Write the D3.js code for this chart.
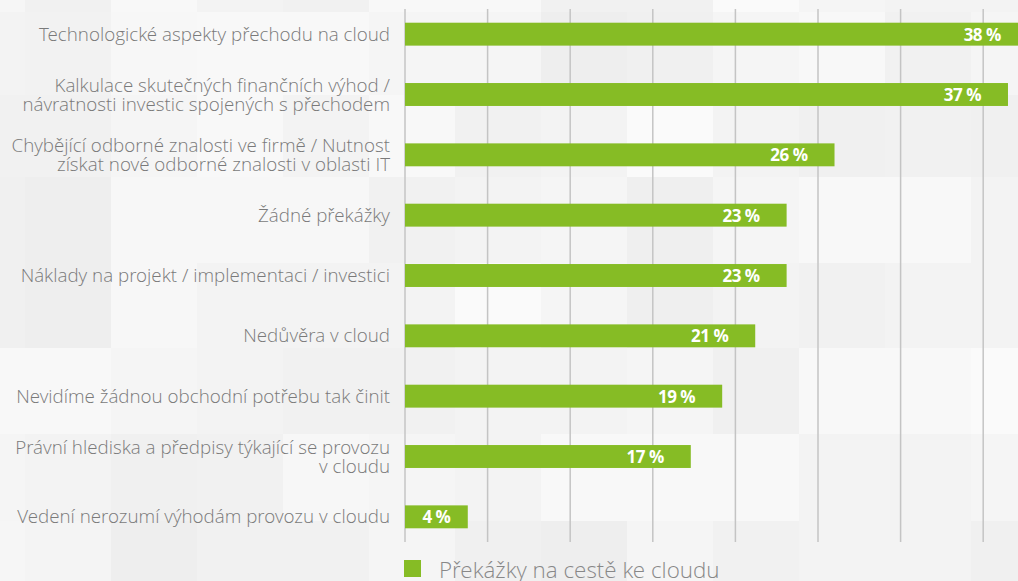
<!DOCTYPE html>
<html>
<head>
<meta charset="utf-8">
<script src="https://cdn.jsdelivr.net/npm/d3@7"></script>
<style>
  html, body { margin: 0; padding: 0; background: #f6f6f6; }
  svg { display: block; }
</style>
</head>
<body>
<div id="chart"></div>
<script>
// Chart data
const categories = [
  "Technologické aspekty přechodu na cloud",
  "Kalkulace skutečných finančních výhod /\nnávratnosti investic spojených s přechodem",
  "Chybějící odborné znalosti ve firmě / Nutnost\nzískat nové odborné znalosti v oblasti IT",
  "Žádné překážky",
  "Náklady na projekt / implementaci / investici",
  "Nedůvěra v cloud",
  "Nevidíme žádnou obchodní potřebu tak činit",
  "Právní hlediska a předpisy týkající se provozu\nv cloudu",
  "Vedení nerozumí výhodám provozu v cloudu"
];
const values = [37.7, 36.5, 26.0, 23.1, 23.1, 21.2, 19.2, 17.3, 3.8];
const valueLabels = ["38 %", "37 %", "26 %", "23 %", "23 %", "21 %", "19 %", "17 %", "4 %"];
const seriesName = "Překážky na cestě ke cloudu";

// background mosaic (decoration)
const bgCols = [0, 25, 111, 197, 283, 369, 455, 541, 627, 713, 799, 885, 971, 1018];
const bgRows = [0, 12, 95, 177, 263, 348, 434, 521, 581];
const bgShades = [
  ["#f6f6f6", "#f1f1f1", "#f8f8f8", "#f3f3f3", "#f1f1f1", "#f8f8f8", "#f8f8f8", "#f1f1f1", "#f1f1f1", "#fafafa", "#f5f5f5", "#f3f3f3", "#f3f3f3"],
  ["#f3f3f3", "#f2f2f2", "#f7f7f7", "#f8f8f8", "#f8f8f8", "#f5f5f5", "#f5f5f5", "#eeeeee", "#f0f0f0", "#f5f5f5", "#f8f8f8", "#f1f1f1", "#f5f5f5"],
  ["#f1f1f1", "#f1f1f1", "#f5f5f5", "#f8f8f8", "#f3f3f3", "#f8f8f8", "#f1f1f1", "#f3f3f3", "#fafafa", "#f3f3f3", "#f0f0f0", "#f1f1f1", "#f0f0f0"],
  ["#f0f0f0", "#eeeeee", "#f7f7f7", "#f7f7f7", "#f7f7f7", "#f1f1f1", "#f3f3f3", "#f5f5f5", "#efefef", "#f5f5f5", "#f8f8f8", "#f8f8f8", "#f3f3f3"],
  ["#f0f0f0", "#eeeeee", "#f7f7f7", "#f3f3f3", "#f3f3f3", "#f3f3f3", "#fafafa", "#f5f5f5", "#efefef", "#f3f3f3", "#f1f1f1", "#f3f3f3", "#f3f3f3"],
  ["#f8f8f8", "#f8f8f8", "#f5f5f5", "#f3f3f3", "#f1f1f1", "#f1f1f1", "#f3f3f3", "#f3f3f3", "#f5f5f5", "#f0f0f0", "#f8f8f8", "#f8f8f8", "#fafafa"],
  ["#f5f5f5", "#f3f3f3", "#f0f0f0", "#f1f1f1", "#f7f7f7", "#f5f5f5", "#f3f3f3", "#f8f8f8", "#f8f8f8", "#f8f8f8", "#f3f3f3", "#f3f3f3", "#f5f5f5"],
  ["#f6f6f6", "#f4f4f4", "#eeeeee", "#f1f1f1", "#f1f1f1", "#f5f5f5", "#f0f0f0", "#eeeeee", "#f5f5f5", "#f1f1f1", "#f3f3f3", "#f3f3f3", "#f0f0f0"]
];

let width = 1018;
let height = 581;
let green = "#86bc25";

let svg = d3.select("#chart").append("svg")
  .attr("width", width)
  .attr("height", height);

// background squares
bgShades.forEach(function(row, r) {
  row.forEach(function(shade, c) {
    svg.append("rect")
      .attr("x", bgCols[c])
      .attr("y", bgRows[r])
      .attr("width", bgCols[c + 1] - bgCols[c])
      .attr("height", bgRows[r + 1] - bgRows[r])
      .attr("fill", shade);
  });
});

let x = d3.scaleLinear()
  .domain([0, 40])
  .range([405, 405 + 40 * 16.52]);

let y = d3.scaleBand()
  .domain(categories)
  .range([4, 547])
  .paddingInner(0.62)
  .paddingOuter(0.31);

// vertical grid lines
svg.append("g")
  .selectAll("line")
  .data(x.ticks(8))
  .enter().append("line")
  .attr("x1", function(d) { return x(d); })
  .attr("x2", function(d) { return x(d); })
  .attr("y1", 9)
  .attr("y2", 542)
  .attr("stroke", "#c4c4c4")
  .attr("stroke-width", 1.5);

// bars
svg.append("g")
  .selectAll("rect")
  .data(values)
  .enter().append("rect")
  .attr("x", x(0))
  .attr("y", function(d, i) { return y(categories[i]); })
  .attr("width", function(d) { return x(d) - x(0); })
  .attr("height", y.bandwidth())
  .attr("fill", green);

// value labels inside the bars
svg.append("g")
  .selectAll("text")
  .data(values)
  .enter().append("text")
  .attr("x", function(d) {
    let w = x(d) - x(0);
    return w < 90 ? x(0) + w / 2 : x(d) - 27;
  })
  .attr("y", function(d, i) { return y(categories[i]) + y.bandwidth() / 2 + 6.5; })
  .attr("text-anchor", function(d) { return (x(d) - x(0)) < 90 ? "middle" : "end"; })
  .style("font-family", "'Open Sans', sans-serif")
  .style("font-size", "17px")
  .style("font-weight", 700)
  .style("letter-spacing", "-0.5px")
  .attr("fill", "#ffffff")
  .text(function(d, i) { return valueLabels[i]; });

// category labels
let labels = svg.append("g")
  .selectAll("text")
  .data(categories)
  .enter().append("text")
  .attr("text-anchor", "end")
  .style("font-family", "'Open Sans Light', 'Open Sans', sans-serif")
  .style("font-size", "18.8px")
  .style("font-weight", 300)
  .attr("fill", "#7a7a7a");

labels.each(function(d) {
  let lines = d.split("\n");
  let cy = y(d) + y.bandwidth() / 2;
  let t = d3.select(this);
  lines.forEach(function(line, i) {
    t.append("tspan")
      .attr("x", 390)
      .attr("y", cy + 6.5 + (i - (lines.length - 1) / 2) * 19)
      .text(line);
  });
});

// legend
svg.append("rect")
  .attr("x", 404)
  .attr("y", 560)
  .attr("width", 17)
  .attr("height", 17)
  .attr("fill", green);

svg.append("text")
  .attr("x", 439)
  .attr("y", 578)
  .style("font-family", "'Open Sans Light', 'Open Sans', sans-serif")
  .style("font-size", "22.4px")
  .style("font-weight", 300)
  .attr("fill", "#888888")
  .text(seriesName);
</script>
</body>
</html>
